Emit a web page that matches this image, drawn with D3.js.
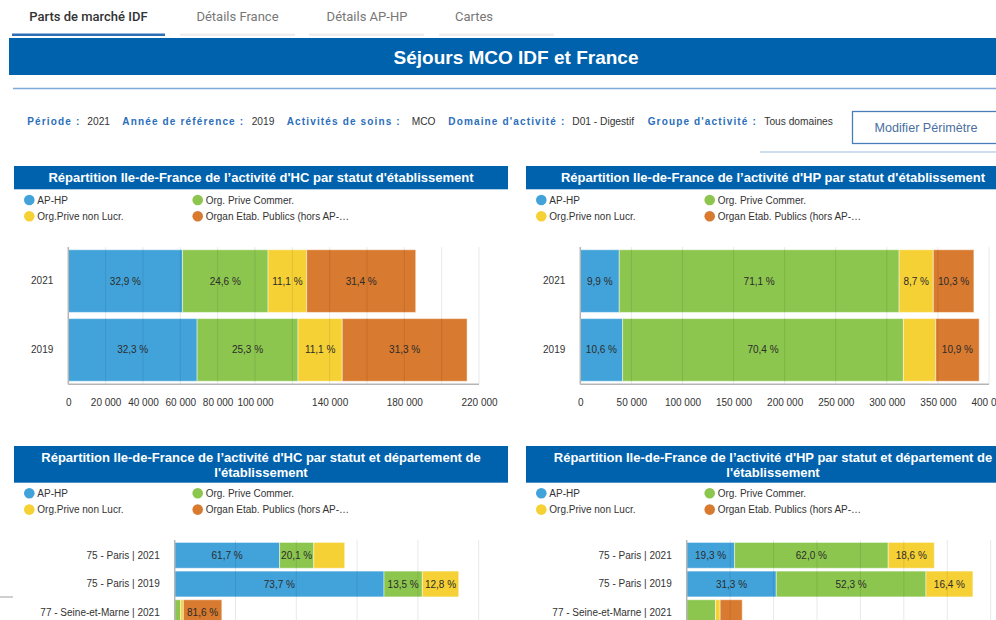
<!DOCTYPE html>
<html lang="fr">
<head>
<meta charset="utf-8">
<script src="https://cdn.jsdelivr.net/npm/d3@7"></script>
<style>
body { margin: 0; background: #fff; overflow: hidden; }
svg { display: block; font-family: "Liberation Sans", Arial, sans-serif; }
</style>
</head>
<body>
<svg id="page" width="996" height="620"></svg>
<script>
// --- data ---
const statuts = ["AP-HP", "Org. Prive Commer.", "Org.Prive non Lucr.", "Organ Etab. Publics (hors AP-…"];
const statutColors = ["#42a3da", "#8cc64f", "#f6d135", "#d87a2f"];

const annees = ["2021", "2019"];
const hcApHp = [61200, 69000];
const hcCommer = [45800, 54040];
const hcNonLucr = [20700, 23710];
const hcPublics = [58400, 66860];

const hpApHp = [38130, 41380];
const hpCommer = [273880, 274840];
const hpNonLucr = [33510, 31620];
const hpPublics = [39680, 42550];

const departements = ["75 - Paris | 2021", "75 - Paris | 2019", "77 - Seine-et-Marne | 2021"];
const deptHcApHp = [34500, 68850, 0];
const deptHcCommer = [11240, 12610, 1950];
const deptHcNonLucr = [10180, 11960, 900];
const deptHcPublics = [0, 0, 12650];

const deptHpApHp = [22050, 41250, 0];
const deptHpCommer = [70750, 68930, 13250];
const deptHpNonLucr = [21230, 21620, 2150];
const deptHpPublics = [0, 0, 10160];

const hcGrid = [20000, 40000, 60000, 80000, 100000, 120000, 140000, 160000, 180000, 200000, 220000];
const hcTicks = [0, 20000, 40000, 60000, 80000, 100000, 140000, 180000, 220000];
const hpGrid = [50000, 100000, 150000, 200000, 250000, 300000, 350000, 400000];
const hpTicks = [0, 50000, 100000, 150000, 200000, 250000, 300000, 350000, 400000];
const deptHcGrid = [20000, 40000, 60000, 80000, 100000];
const deptHpGrid = [20000, 40000, 60000, 80000, 100000, 120000, 140000];

const tabs = ["Parts de marché IDF", "Détails France", "Détails AP-HP", "Cartes"];
const filterLabels = ["Période :", "Année de référence :", "Activités de soins :", "Domaine d'activité :", "Groupe d'activité :"];
const filterValues = ["2021", "2019", "MCO", "D01 - Digestif", "Tous domaines"];

const fr = d3.formatLocale({ decimal: ",", thousands: "\u00a0", grouping: [3], currency: ["", " €"] });
const fmtNum = fr.format(",d");
const fmtPct = fr.format(".1f");

const svg = d3.select("#page");

// --- tabs ---
const tabLeft = [12, 180, 309, 439];
const tabWidth = [153, 115, 115, 115];
const tabTextX = [88.5, 237.5, 367, 474];
tabs.forEach((t, i) => {
    svg.append("rect")
        .attr("x", tabLeft[i]).attr("y", 33.5)
        .attr("width", tabWidth[i]).attr("height", 2.5)
        .attr("fill", i === 0 ? "#2d6db5" : "#eeeeee");
    svg.append("text")
        .attr("x", tabTextX[i]).attr("y", 20.5)
        .attr("text-anchor", "middle")
        .style("font-family", "Roboto, 'Liberation Sans', sans-serif")
        .style("font-size", "13px")
        .style("font-weight", i === 0 ? 500 : 400)
        .style("fill", i === 0 ? "#333" : "#777")
        .text(t);
});

// --- main title ---
svg.append("rect").attr("x", 9).attr("y", 38).attr("width", 987).attr("height", 37).attr("fill", "#0062ad");
svg.append("text")
    .attr("x", 516).attr("y", 63.5)
    .attr("text-anchor", "middle")
    .style("font-size", "19px").style("font-weight", "bold").style("fill", "#fff")
    .text("Séjours MCO IDF et France");
svg.append("line").attr("x1", 13).attr("x2", 996).attr("y1", 88.5).attr("y2", 88.5)
    .attr("stroke", "#7ea9d9").attr("stroke-width", 1.5);

// --- filter row ---
const filterLabelX = [27.3, 122.3, 286.7, 448.3, 647.7];
const filterValueX = [87.3, 251.7, 411.7, 572.3, 764.3];
filterLabels.forEach((lab, i) => {
    svg.append("text").attr("x", filterLabelX[i]).attr("y", 124.5)
        .style("font-size", "10px").style("font-weight", "bold")
        .style("letter-spacing", "1.15px").style("fill", "#2a6ebb")
        .text(lab);
    svg.append("text").attr("x", filterValueX[i]).attr("y", 124.5)
        .style("font-size", "10.2px").style("fill", "#333")
        .text(filterValues[i]);
});

svg.append("rect").attr("x", 852.5).attr("y", 111.5).attr("width", 150).attr("height", 32)
    .attr("fill", "#fff").attr("stroke", "#4a7db8").attr("stroke-width", 1.3);
svg.append("text").attr("x", 926).attr("y", 131.5).attr("text-anchor", "middle")
    .style("font-size", "12.6px").style("fill", "#4a6fa0").text("Modifier Périmètre");
svg.append("line").attr("x1", 760).attr("x2", 996).attr("y1", 152).attr("y2", 152)
    .attr("stroke", "#9dbde0").attr("stroke-width", 1);

// scroll edge mark on the left
svg.append("line").attr("x1", 0).attr("x2", 13).attr("y1", 597).attr("y2", 597)
    .attr("stroke", "#cfcfcf").attr("stroke-width", 2);

// --- panels ---
function drawPanel(p) {
    const g = svg.append("g");

    g.append("rect").attr("x", p.x0).attr("y", p.headTop)
        .attr("width", 494).attr("height", p.headH).attr("fill", "#0062ad");
    p.title.forEach((line, i) => {
        g.append("text")
            .attr("x", p.x0 + 247).attr("y", p.titleY + i * 15)
            .attr("text-anchor", "middle")
            .style("font-size", "13px").style("font-weight", "bold").style("fill", "#fff")
            .text(line);
    });

    const leg = g.selectAll(".leg")
        .data(statuts)
        .join("g")
        .attr("class", "leg")
        .attr("transform", (d, i) => `translate(${p.x0 + (i % 2 ? 183.7 : 15.3)},${p.legendY + Math.floor(i / 2) * 16.3})`);
    leg.append("circle").attr("r", 5.3).attr("fill", (d, i) => statutColors[i]);
    leg.append("text").attr("x", 8).attr("dy", "0.35em")
        .style("font-size", "10px").style("fill", "#333")
        .text(d => d);

    const x = d3.scaleLinear()
        .domain([0, p.max])
        .range([p.x0 + p.left, p.x0 + p.right]);

    const y = d3.scaleBand()
        .domain(p.rows)
        .range(p.yRange)
        .paddingInner(p.padIn)
        .paddingOuter(p.padOut);

    const table = p.rows.map((r, i) => {
        const o = { row: r };
        statuts.forEach((s, k) => o[s] = p.series[k][i]);
        return o;
    });
    const totals = p.rows.map((r, i) => d3.sum(p.series, s => s[i]));
    const stacked = d3.stack().keys(statuts)(table);

    const layers = g.selectAll(".layer")
        .data(stacked)
        .join("g")
        .attr("class", "layer")
        .attr("fill", (d, i) => statutColors[i]);

    layers.selectAll("rect")
        .data(d => d)
        .join("rect")
        .attr("x", d => x(d[0]))
        .attr("y", d => y(d.data.row))
        .attr("width", d => x(d[1]) - x(d[0]))
        .attr("height", y.bandwidth())
        .attr("stroke", "#fff")
        .attr("stroke-opacity", 0.45)
        .attr("stroke-width", 1);

    // grid lines, faint, above the bars
    g.selectAll(".grid")
        .data(p.grid)
        .join("line")
        .attr("class", "grid")
        .attr("x1", d => x(d)).attr("x2", d => x(d))
        .attr("y1", p.gridTop).attr("y2", p.axisY)
        .attr("stroke", "#000").attr("stroke-opacity", 0.09);

    g.append("line")
        .attr("x1", x(0)).attr("x2", x(0))
        .attr("y1", p.gridTop).attr("y2", p.axisY)
        .attr("stroke", "#b5b5b5").attr("stroke-width", 1.5);

    if (p.ticks) {
        g.append("line")
            .attr("x1", x(0)).attr("x2", x(p.max))
            .attr("y1", p.axisY).attr("y2", p.axisY)
            .attr("stroke", "#b5b5b5").attr("stroke-width", 1.5);

        const ax = g.append("g")
            .attr("transform", `translate(0,${p.axisY})`)
            .call(d3.axisBottom(x).tickValues(p.ticks).tickSize(0).tickPadding(15).tickFormat(fmtNum));
        ax.select(".domain").remove();
        ax.selectAll("text")
            .style("font-family", "'Liberation Sans', Arial, sans-serif")
            .style("font-size", "10px").style("fill", "#333");
    }

    const ay = g.append("g")
        .attr("transform", `translate(${x(0)},0)`)
        .call(d3.axisLeft(y).tickSize(0).tickPadding(15));
    ay.select(".domain").remove();
    ay.selectAll("text")
        .style("font-family", "'Liberation Sans', Arial, sans-serif")
        .style("font-size", "10px").style("fill", "#333");

    // percent labels
    stacked.forEach(layer => {
        layer.forEach((d, i) => {
            const w = x(d[1]) - x(d[0]);
            if (w < 34) return;
            g.append("text")
                .attr("x", (x(d[0]) + x(d[1])) / 2)
                .attr("y", y(d.data.row) + y.bandwidth() / 2)
                .attr("dy", "0.35em")
                .attr("text-anchor", "middle")
                .style("font-size", "10px").style("fill", "#2b2b2b")
                .text(fmtPct((d[1] - d[0]) / totals[i] * 100) + " %");
        });
    });
}

const topCommon = {
    headTop: 166, headH: 23.3, titleY: 182,
    legendY: 200, rows: annees,
    yRange: [247, 384], padIn: 0.09, padOut: 0.04,
    gridTop: 247, axisY: 384.3, left: 54.3
};

drawPanel(Object.assign({}, topCommon, {
    x0: 14,
    title: ["Répartition Ile-de-France de l’activité d'HC par statut d'établissement"],
    series: [hcApHp, hcCommer, hcNonLucr, hcPublics],
    max: 220000, right: 465, grid: hcGrid, ticks: hcTicks
}));

drawPanel(Object.assign({}, topCommon, {
    x0: 526,
    title: ["Répartition Ile-de-France de l’activité d'HP par statut d'établissement"],
    series: [hpApHp, hpCommer, hpNonLucr, hpPublics],
    max: 400000, right: 463, grid: hpGrid, ticks: hpTicks
}));

const bottomCommon = {
    headTop: 446, headH: 36.7, titleY: 461.5,
    legendY: 493.3, rows: departements,
    yRange: [541, 627], padIn: 0.1, padOut: 0.05,
    gridTop: 540, axisY: 640, left: 160.7, right: 464.7
};

drawPanel(Object.assign({}, bottomCommon, {
    x0: 14,
    title: ["Répartition Ile-de-France de l’activité d'HC par statut et département de", "l'établissement"],
    series: [deptHcApHp, deptHcCommer, deptHcNonLucr, deptHcPublics],
    max: 100000, grid: deptHcGrid
}));

drawPanel(Object.assign({}, bottomCommon, {
    x0: 526,
    title: ["Répartition Ile-de-France de l’activité d'HP par statut et département de", "l'établissement"],
    series: [deptHpApHp, deptHpCommer, deptHpNonLucr, deptHpPublics],
    max: 140000, grid: deptHpGrid
}));
</script>
</body>
</html>
